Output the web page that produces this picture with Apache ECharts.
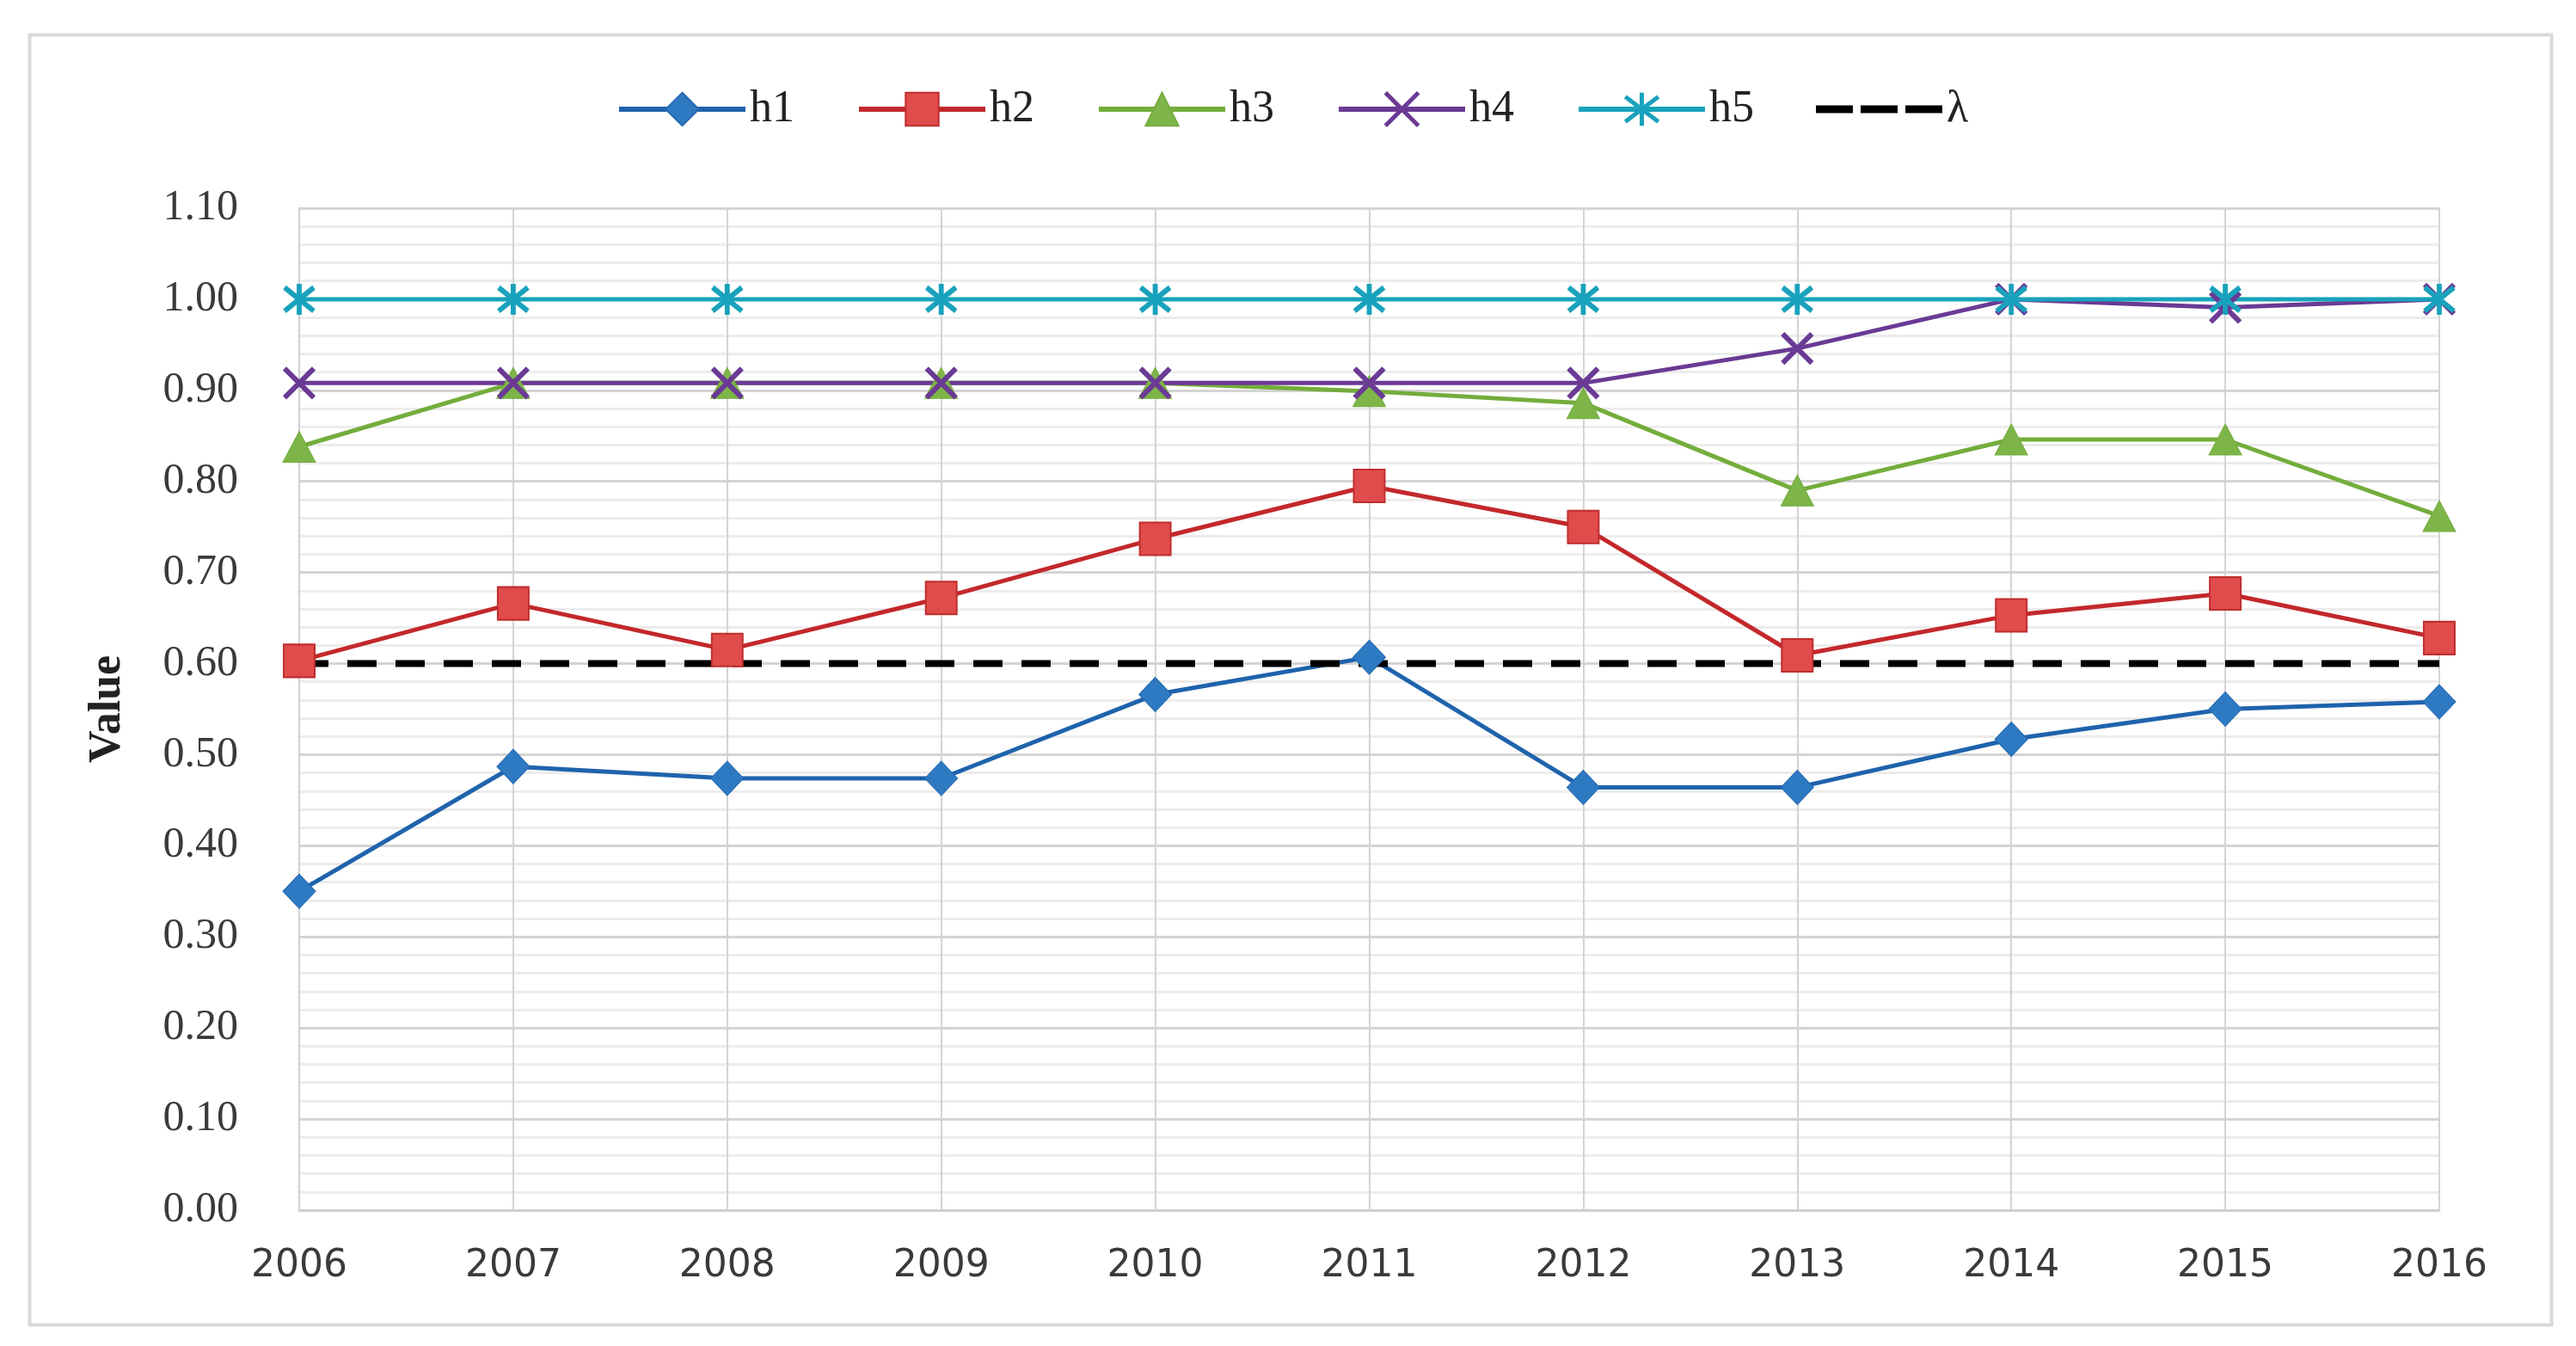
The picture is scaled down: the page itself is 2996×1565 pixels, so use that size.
<!DOCTYPE html>
<html>
<head>
<meta charset="utf-8">
<script src="https://cdn.jsdelivr.net/npm/echarts@6/dist/echarts.min.js"></script>
<style>
html,body{margin:0;padding:0;background:#fff;}
#chart{width:2996px;height:1565px;}
</style>
</head>
<body>
<div id="chart"></div>
<script>
const categories = ['2006','2007','2008','2009','2010','2011','2012','2013','2014','2015','2016'];
const h1 = [0.350, 0.487, 0.474, 0.474, 0.566, 0.607, 0.464, 0.464, 0.517, 0.550, 0.558];
const h2 = [0.603, 0.666, 0.615, 0.672, 0.737, 0.795, 0.750, 0.609, 0.653, 0.677, 0.628];
const h3 = [0.838, 0.908, 0.908, 0.908, 0.908, 0.899, 0.886, 0.790, 0.846, 0.846, 0.762];
const h4 = [0.908, 0.908, 0.908, 0.908, 0.908, 0.908, 0.908, 0.946, 1.000, 0.991, 1.000];
const h5 = [1.000, 1.000, 1.000, 1.000, 1.000, 1.000, 1.000, 1.000, 1.000, 1.000, 1.000];
const lambda = [0.60, 0.60, 0.60, 0.60, 0.60, 0.60, 0.60, 0.60, 0.60, 0.60, 0.60];
const yTicks = { min: 0, max: 1.1, interval: 0.1 };

const chart = echarts.init(document.getElementById('chart'));
const serif = 'Liberation Serif';
const dashIcon = 'path://M0,0L0.01,0M0,10L0.01,10M0,4h9.5v2h-9.5zM11.5,4h9.5v2h-9.5zM23,4h9.5v2h-9.5z';
const option = {
  animation: false,
  backgroundColor: '#ffffff',
  graphic: [{
    type: 'rect', left: 32, top: 38, z: -1,
    shape: { width: 2933, height: 1500 },
    style: { fill: 'none', stroke: '#d9d9d9', lineWidth: 4 }
  }],
  legend: {
    left: 712, top: 96,
    itemWidth: 147, itemHeight: 48, itemGap: 72,
    lineStyle: { width: 6 },
    textStyle: { fontFamily: serif, fontSize: 52, color: '#222' },
    data: ['h1','h2','h3',
      { name: 'h4', itemStyle: { borderWidth: 5 } },
      { name: 'h5', itemStyle: { borderWidth: 5 } },
      { name: 'λ', icon: dashIcon, itemStyle: { color: '#000' } }]
  },
  grid: { left: 348, right: 159, top: 242, bottom: 158 },
  xAxis: {
    type: 'category', data: categories, boundaryGap: false,
    axisLine: { show: true, lineStyle: { color: '#cfcfcf', width: 3 } },
    axisTick: { show: false },
    axisLabel: { fontFamily: 'DejaVu Sans', fontSize: 44, color: '#3a3a3a', margin: 44 },
    splitLine: { show: true, lineStyle: { color: '#d4d4d4', width: 2 } }
  },
  yAxis: {
    type: 'value', min: yTicks.min, max: yTicks.max, interval: yTicks.interval,
    name: 'Value', nameLocation: 'middle', nameGap: 196, nameRotate: 90,
    nameTextStyle: { fontFamily: serif, fontWeight: 'bold', fontSize: 52, color: '#222' },
    axisLine: { show: true, lineStyle: { color: '#cfcfcf', width: 2 } },
    axisTick: { show: false },
    axisLabel: { fontFamily: serif, fontSize: 50, color: '#3a3a3a', margin: 71,
      formatter: v => v.toFixed(2) },
    splitLine: { show: true, lineStyle: { color: '#d4d4d4', width: 3 } },
    minorTick: { show: false, splitNumber: 5 },
    minorSplitLine: { show: true, lineStyle: { color: '#ececec', width: 3 } }
  },
  series: [
    { name: 'h1', type: 'line', data: h1, symbol: 'diamond', symbolSize: [38, 40],
      lineStyle: { color: '#1E63AC', width: 5 },
      itemStyle: { color: '#2E7AC2', borderColor: '#2569B0', borderWidth: 1 } },
    { name: 'h2', type: 'line', data: h2, symbol: 'rect', symbolSize: [36, 38],
      lineStyle: { color: '#C3282B', width: 5 },
      itemStyle: { color: '#E04B4B', borderColor: '#BF2D2D', borderWidth: 2 } },
    { name: 'h3', type: 'line', data: h3, symbol: 'triangle', symbolSize: [38, 36],
      lineStyle: { color: '#74AD3C', width: 5 },
      itemStyle: { color: '#7DB548', borderColor: '#74AD3C', borderWidth: 1 } },
    { name: 'h4', type: 'line', data: h4, symbol: 'path://M0,0L10,10M10,0L0,10', symbolSize: [34, 34],
      lineStyle: { color: '#6A3A94', width: 5 },
      itemStyle: { color: '#6A3A94', borderColor: '#6A3A94', borderWidth: 6 } },
    { name: 'h5', type: 'line', data: h5, symbol: 'path://M5,0L5,10M0.5,1.2L9.5,8.8M0.5,8.8L9.5,1.2', symbolSize: [34, 36],
      lineStyle: { color: '#19A2BC', width: 5 },
      itemStyle: { color: '#19A2BC', borderColor: '#19A2BC', borderWidth: 6 } },
    { name: 'λ', type: 'line', data: lambda, symbol: 'none',
      lineStyle: { color: '#000000', width: 8, type: [34, 22] },
      itemStyle: { color: '#000000' } }
  ]
};
chart.setOption(option);
</script>
</body>
</html>
